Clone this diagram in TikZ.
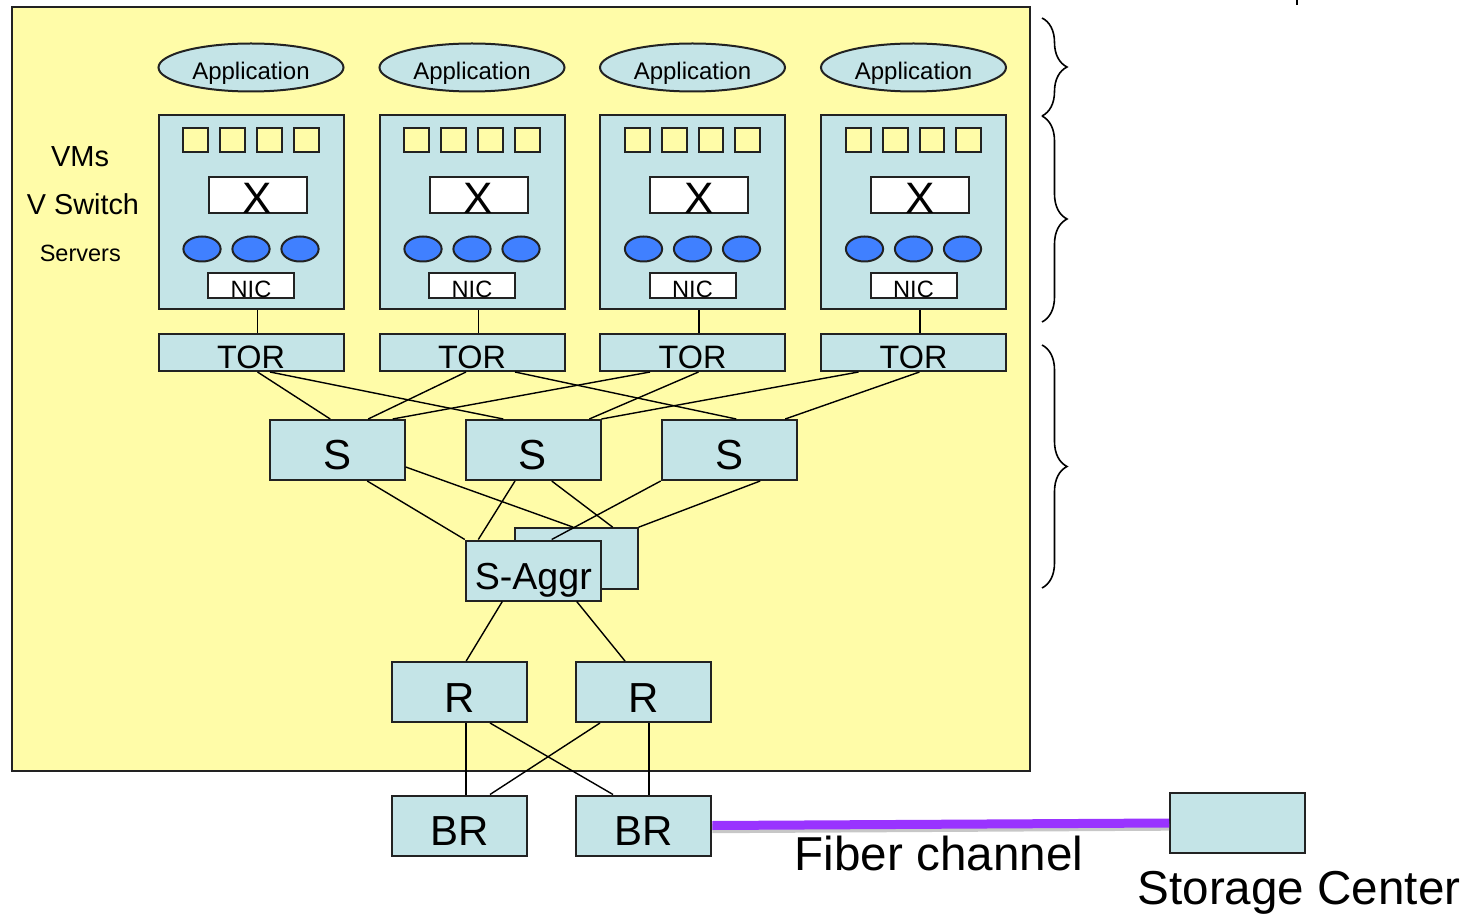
\documentclass[tikz,border=0pt]{standalone}
\usepackage{fontspec}
\setmainfont{Liberation Sans}
\usetikzlibrary{shapes.geometric,decorations.pathreplacing}
\definecolor{bgyellow}{RGB}{255,252,168}
\definecolor{boxblue}{RGB}{196,228,231}
\definecolor{dotblue}{RGB}{64,128,255}
\definecolor{fiber}{RGB}{153,51,255}
\definecolor{edgecol}{RGB}{34,34,34}
\begin{document}
\begin{tikzpicture}[x=0.5pt,y=-0.5pt,
  box/.style={rectangle, draw=edgecol, line width=1pt, fill=boxblue, inner sep=0pt},
  server/.style={box, minimum width=92.5pt, minimum height=97pt},
  app/.style={ellipse, draw=edgecol, line width=1pt, fill=boxblue, inner sep=0pt,
    minimum width=92.5pt, minimum height=24pt,
    font=\fontsize{12}{12}\selectfont, text height=11.9pt, text depth=0pt},
  vm/.style={rectangle, draw=edgecol, line width=1pt, fill=bgyellow, inner sep=0pt, minimum size=12.4pt},
  vsw/.style={rectangle, draw=edgecol, line width=1pt, fill=white, inner sep=0pt,
    minimum width=49pt, minimum height=18.3pt,
    font=\fontsize{22}{22}\selectfont, text height=18.2pt, text depth=0pt},
  port/.style={ellipse, draw=edgecol, line width=1pt, fill=dotblue, inner sep=0pt,
    minimum width=18.6pt, minimum height=12.5pt},
  nic/.style={rectangle, draw=edgecol, line width=1pt, fill=white, inner sep=0pt,
    minimum width=43pt, minimum height=12.5pt,
    font=\fontsize{11.8}{12}\selectfont, text height=11.95pt, text depth=0pt},
  tor/.style={box, minimum width=92.5pt, minimum height=18.5pt,
    font=\fontsize{16.2}{17}\selectfont, text height=16.1pt, text depth=0pt},
  sw/.style={box, minimum width=67.5pt, minimum height=30pt,
    font=\fontsize{21}{21}\selectfont, text height=20pt, text depth=0pt},
  link/.style={draw=black, line width=0.7pt},
  sidelabel/.style={anchor=base, inner sep=0pt},
  bracket/.style={decorate, decoration={brace, amplitude=12.5pt}, line width=0.8pt}
]
\useasboundingbox (0,0) rectangle (1478,914);

% background panel
\draw[draw=edgecol, line width=1pt, fill=bgyellow] (12,7) rectangle (1030,770.5);

% side labels
\node[sidelabel, font=\fontsize{14.5}{15}\selectfont] (lvms) at (80,167) {VMs};
\node[sidelabel, font=\fontsize{14.4}{15}\selectfont] (lvsw) at (83,215) {V Switch};
\node[sidelabel, font=\fontsize{11.75}{12}\selectfont] (lsrv) at (80.3,261.4) {Servers};

% servers
\foreach \i/\cx in {1/251,2/472,3/692.5,4/913.5}{
  \node[app] (app\i) at (\cx,67.5) {Application};
  \node[server] (sv\i) at (\cx,212.3) {};
  \foreach \j/\dx in {1/-55.2,2/-18.4,3/18.4,4/55.2}
    \node[vm] (vm\i\j) at (\cx+\dx,140) {};
  \node[vsw] (x\i) at (\cx+6.5,195) {X};
  \foreach \j/\dx in {1/-49,2/0,3/49}
    \node[port] (p\i\j) at (\cx+\dx,249) {};
  \node[nic] (nic\i) at (\cx,286) {NIC};
  \node[tor] (tor\i) at (\cx,352.5) {TOR};
  \draw[link] ([xshift=3.25pt]sv\i.south) -- ([xshift=3.25pt]tor\i.north);
}

% spine switches
\node[sw] (s1) at (337.2,450) {S};
\node[sw] (s2) at (533,450) {S};
\node[sw] (s3) at (729.2,450) {S};

% aggregation (back box)
\node[box, minimum width=61.35pt, minimum height=30.5pt] (aggrb) at (576.3,558.7) {};

% TOR -> S
\draw[link] ([xshift=3.25pt]tor1.south) -- ([xshift=-3.5pt]s1.north);
\draw[link] ([xshift=9.5pt]tor1.south) -- ([xshift=-14.85pt]s2.north);
\draw[link] ([xshift=-3pt]tor2.south) -- ([xshift=15.5pt]s1.north);
\draw[link] ([xshift=21.5pt]tor2.south) -- ([xshift=3.5pt]s3.north);
\draw[link] ([xshift=-21.25pt]tor3.south) -- ([xshift=27.75pt]s1.north);
\draw[link] ([xshift=3pt]tor3.south) -- ([xshift=28.15pt]s2.north);
\draw[link] ([xshift=-27.5pt]tor4.south) -- (s2.north east);
\draw[link] ([xshift=3pt]tor4.south) -- ([xshift=28pt]s3.north);

% S -> aggregation back box
\draw[link] ([yshift=-8.5pt]s1.east) -- ([xshift=-1.5pt]aggrb.north);
\draw[link] ([xshift=9.35pt]s2.south) -- ([xshift=18.2pt]aggrb.north);
\draw[link] ([xshift=15.5pt]s3.south) -- (aggrb.north east);

% aggregation (front box)
\node[sw, font=\fontsize{18.8}{19}\selectfont, text height=18.5pt] (aggr) at (533.3,570.5) {S-Aggr};
\draw[link] ([xshift=15pt]s1.south) -- (aggr.north west);
\draw[link] ([xshift=-9pt]s2.south) -- ([xshift=-27.5pt]aggr.north);
\draw[link] (s3.south west) -- ([xshift=9.2pt]aggr.north);

% routers
\node[sw] (r1) at (459.7,692) {R};
\node[sw] (r2) at (643.8,692) {R};
\draw[link] ([xshift=-15.5pt]aggr.south) -- ([xshift=3.25pt]r1.north);
\draw[link] ([xshift=21.7pt]aggr.south) -- ([xshift=-9.4pt]r2.north);

% border routers
\node[sw] (br1) at (459.7,825.5) {BR};
\node[sw] (br2) at (643.8,825.5) {BR};
\draw[link] ([xshift=3.15pt]r1.south) -- ([xshift=3.15pt]br1.north);
\draw[link] ([xshift=15.15pt]r1.south) -- ([xshift=-15.4pt]br2.north);
\draw[link] ([xshift=-21.9pt]r2.south) -- ([xshift=15.15pt]br1.north);
\draw[link] ([xshift=2.6pt]r2.south) -- ([xshift=2.6pt]br2.north);

% storage and fiber channel
\node[box, minimum width=67.5pt, minimum height=30pt] (st) at (1237.5,823) {};
\draw[line width=4.5pt, black!22] ([yshift=-1.6pt]br2.east) -- ([yshift=-1.6pt]st.west);
\draw[line width=4.5pt, fiber] (br2.east) -- (st.west);
\node[sidelabel, font=\fontsize{23.8}{24}\selectfont] (fc) at (939,870) {Fiber channel};
\node[sidelabel, font=\fontsize{23.8}{24}\selectfont] (sc) at (1299,904) {Storage Center};

% braces
\draw[bracket] (1042,18) -- (1042,116);
\draw[bracket] (1042,116) -- (1042,322);
\draw[bracket] (1042,345) -- (1042,588);

% small tick at top
\draw[line width=1.2pt] (1297,0) -- (1297,5);
\end{tikzpicture}
\end{document}
